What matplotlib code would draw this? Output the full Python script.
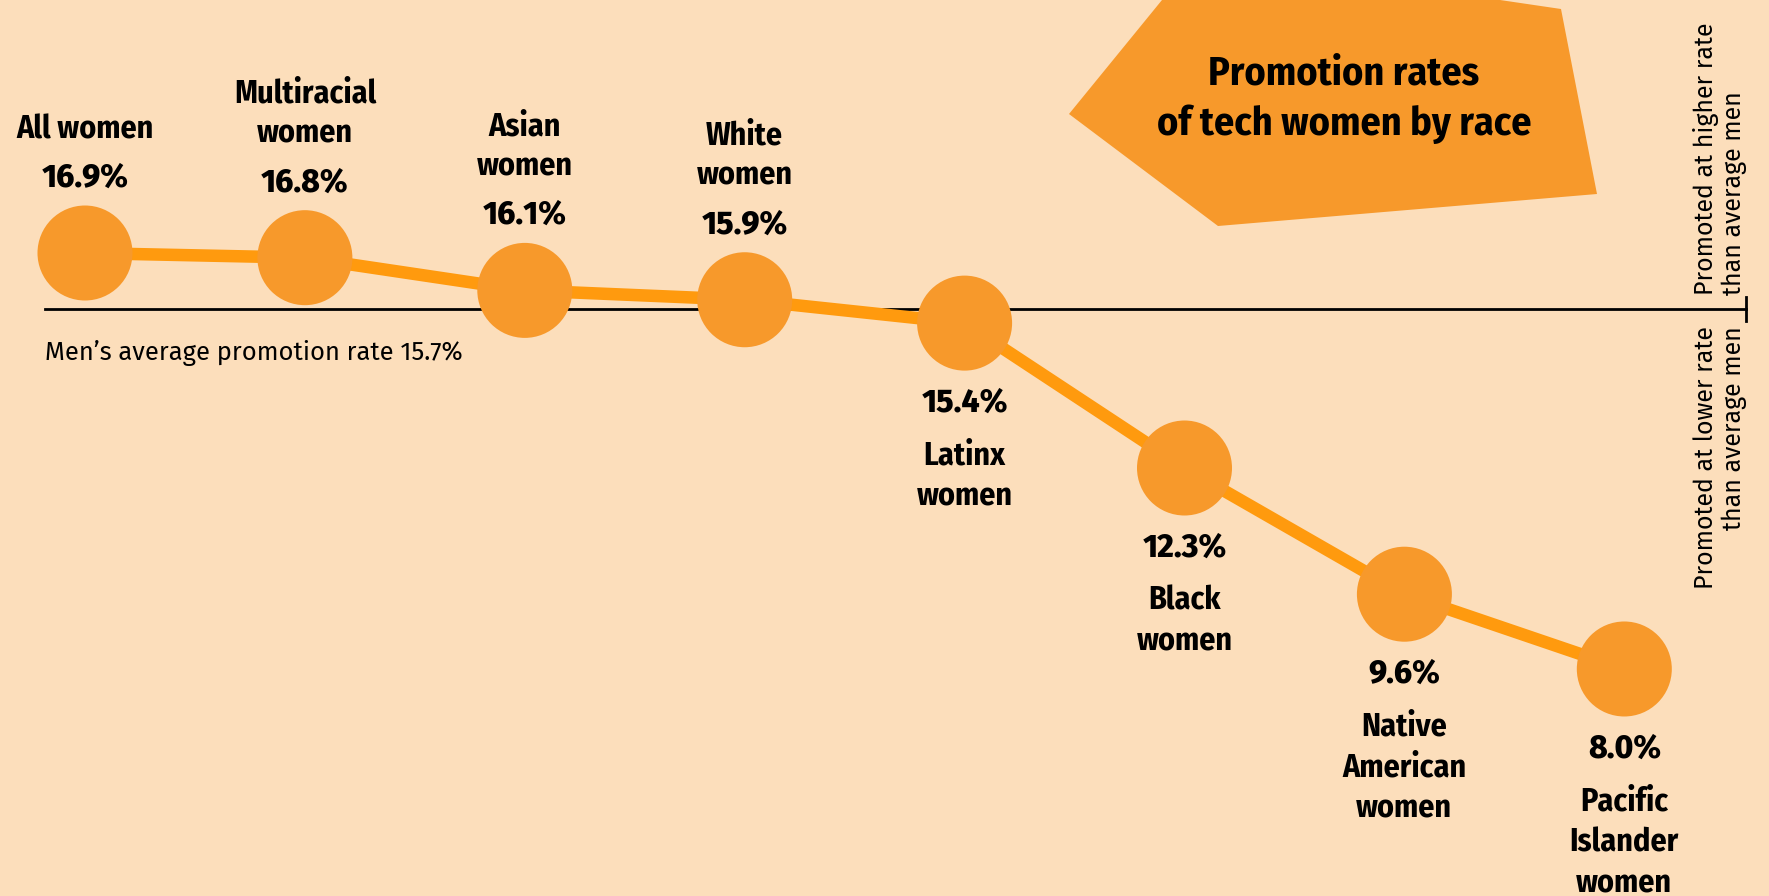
import matplotlib
matplotlib.use("Agg")
import matplotlib.pyplot as plt
from matplotlib import font_manager
from matplotlib.patches import Polygon

# Promotion rates (%) by group, in display order
groups = ["All women", "Multiracial\nwomen", "Asian\nwomen", "White\nwomen",
          "Latinx\nwomen", "Black\nwomen", "Native\nAmerican\nwomen",
          "Pacific\nIslander\nwomen"]
rates = [16.9, 16.8, 16.1, 15.9, 15.4, 12.3, 9.6, 8.0]
men_avg = 15.7

BG = "#FCDEBB"
DOT = "#F7992B"
LINE = "#FF9A0E"

installed = {f.name for f in font_manager.fontManager.ttflist}


def pick(*names):
    for n in names:
        if n in installed:
            return n
    return "DejaVu Sans"


narrow = pick("Fira Sans Condensed", "Open Sans Condensed", "Liberation Sans Narrow")
body = pick("Fira Sans", "Open Sans", "Lato")

W, H = 1769, 896
fig = plt.figure(figsize=(W / 100, H / 100), dpi=100, facecolor=BG)
ax = fig.add_axes([0, 0, 1, 1])
ax.set_facecolor(BG)
ax.set_xlim(-0.3865, 7.658)
ax.set_ylim(3.143, 22.313)
ax.axis("off")

x = list(range(len(rates)))

# reference line for the men's average
ax.axhline(men_avg, xmin=45 / W, xmax=1746 / W, color="black", lw=2, zorder=1)
ax.plot([1746 / W, 1746 / W], [men_avg - 0.25, men_avg + 0.25], color="black", lw=2,
        transform=ax.get_yaxis_transform(), zorder=1)

ax.plot(x, rates, color=LINE, lw=9, solid_capstyle="butt", zorder=2)
ax.scatter(x, rates, s=68.4 ** 2, color=DOT, edgecolors="none", zorder=3)

for xi, r, name in zip(x, rates, groups):
    above = r >= men_avg
    pct_off = 75 if above else -80
    ax.annotate(f"{r:.1f}%", (xi, r), xytext=(0, pct_off), textcoords="offset pixels",
                ha="center", va="center", fontsize=23, fontweight=800,
                family=body, zorder=4)
    if above:
        ax.annotate(name, (xi, r), xytext=(0, pct_off + 40), textcoords="offset pixels",
                    ha="center", va="baseline", fontsize=23, fontweight="bold",
                    family=narrow, linespacing=1.32, zorder=4)
    else:
        ax.annotate(name, (xi, r), xytext=(0, pct_off - 37), textcoords="offset pixels",
                    ha="center", va="top", fontsize=23, fontweight="bold",
                    family=narrow, linespacing=1.36, zorder=4)

ax.annotate("Men\u2019s average promotion rate 15.7%", (45 / W, men_avg),
            xycoords=("axes fraction", "data"), xytext=(0, -44),
            textcoords="offset pixels", ha="left", va="center",
            fontsize=18.4, family=body)

# side notes above / below the line
ax.annotate("Promoted at higher rate\nthan average men", (1720 / W, men_avg),
            xycoords=("axes fraction", "data"), xytext=(0, 14),
            textcoords="offset pixels", rotation=90, ha="center", va="bottom",
            multialignment="left", fontsize=18, family=body, linespacing=1.15)
ax.annotate("Promoted at lower rate\nthan average men", (1720 / W, men_avg),
            xycoords=("axes fraction", "data"), xytext=(0, -17),
            textcoords="offset pixels", rotation=90, ha="center", va="top",
            multialignment="right", fontsize=18, family=body, linespacing=1.15)

# title tag
tag = [(1162, 0), (1500, 0), (1561, 9), (1597, 194), (1218, 226), (1069, 114)]
ax.add_patch(Polygon([(px / W, 1 - py / H) for px, py in tag], closed=True,
                     transform=ax.transAxes, facecolor=DOT, edgecolor="none", zorder=2))
ax.text(1344 / W, 1 - 99 / H, "Promotion rates\nof tech women by race",
        transform=ax.transAxes, ha="center", va="center", fontsize=28.8,
        fontweight="bold", family=narrow, linespacing=1.38, zorder=4)

fig.savefig("out.png", dpi=100, facecolor=BG)
